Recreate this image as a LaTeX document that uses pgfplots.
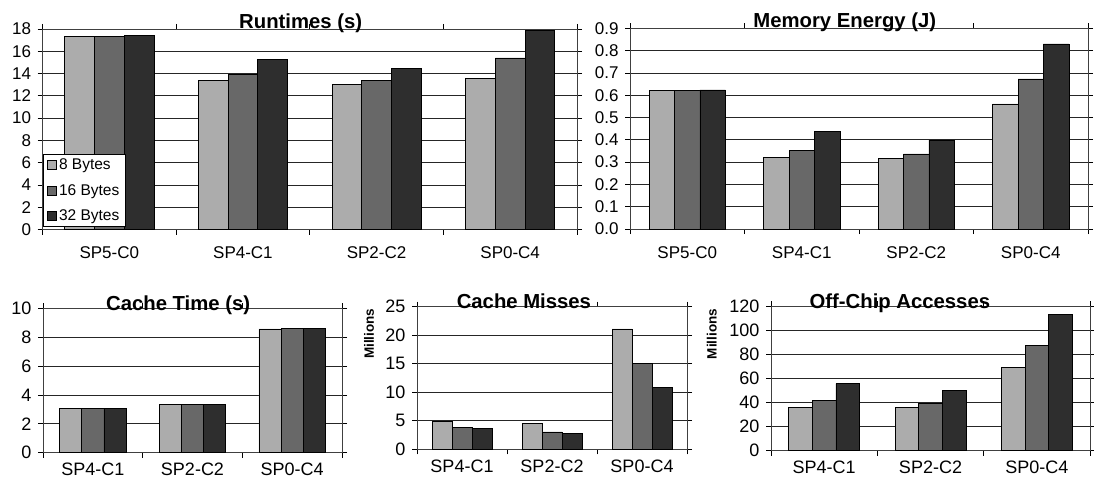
\documentclass[border=0pt]{standalone}
\usepackage{fontspec}
\setmainfont{Liberation Sans}
\usepackage{pgfplots}
\pgfplotsset{compat=1.18}

\definecolor{barA}{RGB}{172,172,172}
\definecolor{barB}{RGB}{104,104,104}
\definecolor{barC}{RGB}{46,46,46}

% category names, set in text mode at the sizes of each row of charts
\newcommand\tcat[1]{\mbox{\fontsize{17}{17}\selectfont #1}}
\newcommand\bcat[1]{\mbox{\fontsize{18}{18}\selectfont #1}}

\pgfplotsset{
  memchart/.style={
    scale only axis,
    anchor=south west,
    ybar,
    bar width=0.2222,
    ymin=0,
    axis line style={black!75, line width=0.8pt},
    ymajorgrids,
    grid style={black!85, line width=0.8pt},
    tick align=outside,
    major tick length=5pt,
    tick style={black, line width=0.8pt},
    xticklabels={},
    /pgf/number format/assume math mode=true,
    legend image code/.code={\draw[#1, draw=black, line width=0.6pt] (0pt,-4.5pt) rectangle (9pt,4.5pt);},
  },
  topchart/.style={
    memchart,
    xmin=-0.5, xmax=3.5,
    xtick={-0.5,0.5,1.5,2.5,3.5},
    extra x ticks={0,1,2,3},
    extra x tick labels={\tcat{SP5-C0},\tcat{SP4-C1},\tcat{SP2-C2},\tcat{SP0-C4}},
    extra x tick style={major tick length=0pt, tick style={draw=none},
      tick label style={font=\fontsize{17}{17}\selectfont}},
    tick label style={font=\fontsize{17}{17}\selectfont},
    yticklabel style={xshift=-3pt},
    xticklabel style={yshift=-14pt},
    title style={anchor=base, yshift=-5.5pt, font=\bfseries\fontsize{20.3}{20.3}\selectfont},
  },
  lowchart/.style={
    memchart,
    xmin=-0.5, xmax=2.5,
    xtick={-0.5,0.5,1.5,2.5},
    extra x ticks={0,1,2},
    extra x tick labels={\bcat{SP4-C1},\bcat{SP2-C2},\bcat{SP0-C4}},
    extra x tick style={major tick length=0pt, tick style={draw=none},
      tick label style={font=\fontsize{18}{18}\selectfont}},
    tick label style={font=\fontsize{18}{18}\selectfont},
    yticklabel style={xshift=-3pt},
    xticklabel style={yshift=-7pt},
    title style={anchor=base, yshift=-8pt, font=\bfseries\fontsize{20.3}{20.3}\selectfont},
    ylabel style={anchor=center, font=\bfseries\fontsize{13.5}{13.5}\selectfont},
  },
  b8/.style={fill=barA, draw=black, line width=0.6pt, bar shift=-0.2222},
  b16/.style={fill=barB, draw=black, line width=0.6pt, bar shift=0},
  b32/.style={fill=barC, draw=black, line width=0.6pt, bar shift=0.2222},
}

\begin{document}
\begin{tikzpicture}[x=1pt,y=1pt]
\useasboundingbox (0,0) rectangle (1094,483);

% Runtimes (s)
\begin{axis}[topchart,
  at={(42.5pt,253.5pt)}, width=534.5pt, height=200.5pt,
  ymax=18, ytick={0,2,...,18},
  title={Runtimes (s)}, title style={at={(0.483,1)}},
  legend style={at={(0,0)}, anchor=south west, yshift=2.5pt,
    draw=black, line width=0.8pt, fill=white,
    font=\fontsize{15.5}{15.5}\selectfont,
    inner xsep=4.5pt, inner ysep=2.5pt, row sep=9pt,
    cells={anchor=west}},
]
\addplot[b8]  coordinates {(0,17.3) (1,13.4) (2,13.05) (3,13.55)};
\addplot[b16] coordinates {(0,17.3) (1,13.95) (2,13.35) (3,15.4)};
\addplot[b32] coordinates {(0,17.4) (1,15.3) (2,14.45) (3,17.9)};
\legend{8 Bytes,16 Bytes,32 Bytes}
\end{axis}

% Memory Energy (J)
\begin{axis}[topchart,
  at={(630pt,254pt)}, width=458pt, height=200.7pt,
  ymax=0.9, ytick={0,0.1,...,0.9},
  yticklabel style={/pgf/number format/.cd, fixed, fixed zerofill, precision=1},
  title={Memory Energy (J)}, title style={at={(0.469,1)}},
]
\addplot[b8]  coordinates {(0,0.622) (1,0.321) (2,0.315) (3,0.561)};
\addplot[b16] coordinates {(0,0.622) (1,0.351) (2,0.337) (3,0.673)};
\addplot[b32] coordinates {(0,0.624) (1,0.437) (2,0.400) (3,0.830)};
\end{axis}

% Cache Time (s)
\begin{axis}[lowchart,
  at={(43pt,30.3pt)}, width=299pt, height=144.4pt,
  ymax=10, ytick={0,2,...,10},
  title={Cache Time (s)}, title style={at={(0.452,1)}},
]
\addplot[b8]  coordinates {(0,3.07) (1,3.33) (2,8.58)};
\addplot[b16] coordinates {(0,3.07) (1,3.33) (2,8.60)};
\addplot[b32] coordinates {(0,3.07) (1,3.33) (2,8.62)};
\end{axis}

% Cache Misses
\begin{axis}[lowchart,
  at={(417pt,33.7pt)}, width=270pt, height=142.6pt,
  ymax=25, ytick={0,5,...,25},
  title={Cache Misses}, title style={at={(0.396,1)}},
  ylabel={Millions},
  ylabel style={at={(axis description cs:-0.178,0.81)}},
]
\addplot[b8]  coordinates {(0,4.9) (1,4.5) (2,21.1)};
\addplot[b16] coordinates {(0,3.85) (1,3.05) (2,15.05)};
\addplot[b32] coordinates {(0,3.65) (1,2.85) (2,10.8)};
\end{axis}

% Off-Chip Accesses
\begin{axis}[lowchart,
  at={(771pt,32.3pt)}, width=319pt, height=144.7pt,
  ymax=120, ytick={0,20,...,120},
  title={Off-Chip Accesses}, title style={at={(0.404,1)}},
  ylabel={Millions},
  ylabel style={at={(axis description cs:-0.186,0.807)}},
]
\addplot[b8]  coordinates {(0,35.9) (1,35.9) (2,68.8)};
\addplot[b16] coordinates {(0,41.5) (1,39.3) (2,87.1)};
\addplot[b32] coordinates {(0,55.6) (1,50.3) (2,113.1)};
\end{axis}
\end{tikzpicture}
\end{document}
